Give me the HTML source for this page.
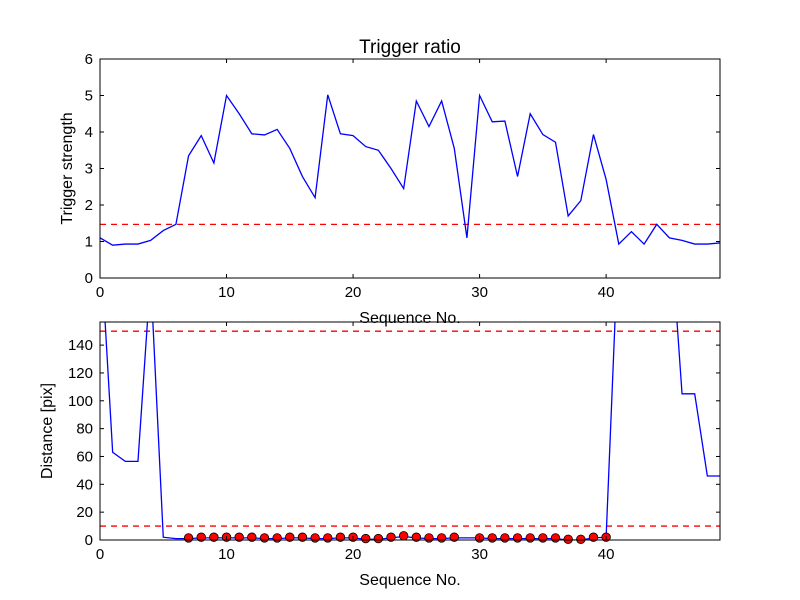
<!DOCTYPE html>
<html><head><meta charset="utf-8"><style>body{margin:0;background:#fff}svg{display:block;font-family:"Liberation Sans",sans-serif}</style></head>
<body>
<svg id="c" width="800" height="600"></svg>
<script>
const seq = Array.from({length:50},(_, i)=>i);
const strength = [1.1,0.9,0.93,0.93,1.03,1.3,1.47,3.35,3.9,3.15,5.0,4.5,3.95,3.92,4.07,3.55,2.78,2.2,5.02,3.95,3.9,3.6,3.5,3.0,2.45,4.85,4.15,4.85,3.55,1.1,5.0,4.28,4.3,2.78,4.5,3.93,3.72,1.7,2.12,3.93,2.7,0.93,1.27,0.93,1.47,1.1,1.03,0.93,0.93,0.96];
const threshold = 1.47;
const distance = [220,63,56.5,56.5,190,2,1,1,1.5,1.5,1.5,1.5,1.5,1,1,1.5,1.5,1,1,1.5,1.5,0.5,0.5,1.5,2.5,1.5,1,1,1.5,1.5,1.5,1,1,1,1,1,1,0,0,1.5,2,223,223,223,223,235,105,105,46,46];
const markerIdx = [7,8,9,10,11,12,13,14,15,16,17,18,19,20,21,22,23,24,25,26,27,28,30,31,32,33,34,35,36,37,38,39,40];
const markerVal = [1.5,2,2,2,2,2,1.5,1.5,2,2,1.5,1.5,2,2,1,1,2,3,2,1.5,1.5,2,1.5,1.5,1.5,1.5,1.5,1.5,1.5,0.5,0.5,2,2];
const distLines = [150,10];
const topTicks = [0,1,2,3,4,5,6];
const botTicks = [0,20,40,60,80,100,120,140];
const xTicks = [0,10,20,30,40];

const svg = document.getElementById('c');
const NS = 'http://www.w3.org/2000/svg';
function mk(t,a,p){const e=document.createElementNS(NS,t);for(const k in a)e.setAttribute(k,a[k]);(p||svg).appendChild(e);return e;}
const L=100,R=720;
const X=v=>L+(v/49)*(R-L);
function axes(top,bot,ymax,yt,yTitle,name,showXTitleY){
  const Y=v=>bot-(v/ymax)*(bot-top);
  const g=mk('g',{});
  
  
  const cid='clip'+name;
  const cp=mk('clipPath',{id:cid},g);mk('rect',{x:L,y:top,width:R-L,height:bot-top},cp);
  const pg=mk('g',{'clip-path':'url(#'+cid+')'},g);
  return {g,pg,Y,top,bot,ymax,yt,yTitle};
}
function frame(a){
  const {g,Y,top,bot,yt}=a;
  mk('rect',{x:L,y:top,width:R-L,height:bot-top,fill:'none',stroke:'#000','stroke-width':1},g);
  yt.forEach(v=>{const y=Y(v);
    mk('line',{x1:L,x2:L+4,y1:y,y2:y,stroke:'#000'},g);mk('line',{x1:R,x2:R-4,y1:y,y2:y,stroke:'#000'},g);
    const t=mk('text',{x:L-7,y:y+5,'text-anchor':'end','font-size':15},g);t.textContent=v;
    });
  xTicks.forEach(v=>{const x=X(v);
    mk('line',{x1:x,x2:x,y1:bot,y2:bot-4,stroke:'#000'},g);mk('line',{x1:x,x2:x,y1:top,y2:top+4,stroke:'#000'},g);
    const t=mk('text',{x:x,y:bot+19,'text-anchor':'middle','font-size':15},g);t.textContent=v;
    });
  const xt=mk('text',{x:410,y:bot+45,'text-anchor':'middle','font-size':16},g);xt.textContent='Sequence No.';
  
  const cy=(top+bot)/2;
  const ytl=mk('text',{x:0,y:0,'text-anchor':'middle','font-size':16,transform:`translate(${a.yx},${cy}) rotate(-90)`},g);ytl.textContent=a.yTitle;
  
}
// top
const A=axes(59,278,6,topTicks,'Trigger strength','top-panel');A.yx=72;
const th=mk('line',{x1:L,x2:R,y1:A.Y(threshold),y2:A.Y(threshold),stroke:'red','stroke-width':1.3,'stroke-dasharray':'6,5'},A.pg);

const p1=mk('polyline',{points:strength.map((v,i)=>X(seq[i])+','+A.Y(v)).join(' '),fill:'none',stroke:'blue','stroke-width':1.3},A.pg);

frame(A);
const ti=mk('text',{x:410,y:53,'text-anchor':'middle','font-size':19});ti.textContent='Trigger ratio';

// bottom
const B=axes(322,540,156.6,botTicks,'Distance [pix]','bottom-panel');B.yx=52;
distLines.forEach(v=>{const l=mk('line',{x1:L,x2:R,y1:B.Y(v),y2:B.Y(v),stroke:'red','stroke-width':1.3,'stroke-dasharray':'6,5'},B.pg);
  });
const p2=mk('polyline',{points:distance.map((v,i)=>X(seq[i])+','+B.Y(v)).join(' '),fill:'none',stroke:'blue','stroke-width':1.3},B.pg);

const mg=mk('g',{},B.g);
markerIdx.forEach((ix,k)=>{const c=mk('circle',{cx:X(ix),cy:B.Y(markerVal[k]),r:4.3,fill:'red',stroke:'#000','stroke-width':0.8},mg);
  });
frame(B);
</script>
</body></html>
